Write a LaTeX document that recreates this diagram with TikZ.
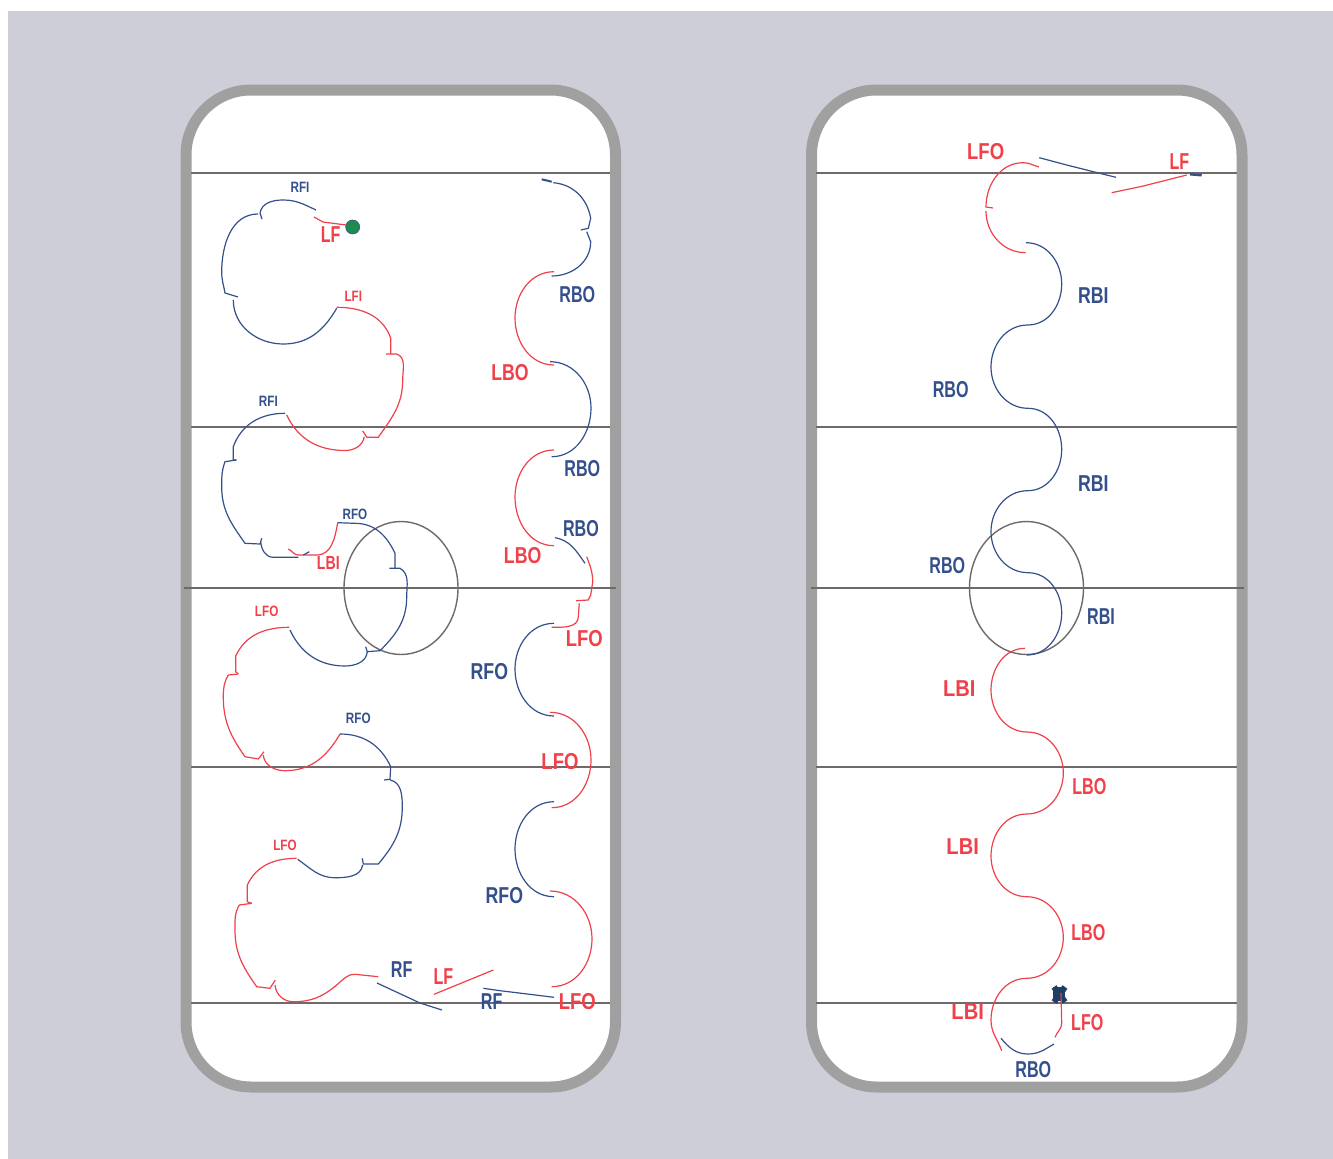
\documentclass[tikz,border=0pt]{standalone}
\usepackage{fontspec}
\setmainfont{Liberation Sans}
\usepackage{xcolor}
\definecolor{iceBg}{HTML}{CECED8}
\definecolor{rimC}{HTML}{A0A0A0}
\definecolor{markC}{HTML}{6E6A6A}
\definecolor{rightC}{HTML}{34508C}
\definecolor{leftC}{HTML}{F0404A}
\definecolor{puckC}{HTML}{1E8C50}
\definecolor{skaterC}{HTML}{1C3F63}
\tikzset{
  rink/.style={draw=rimC, line width=11pt, fill=white, rounded corners=65pt},
  rinkline/.style={draw=markC, line width=1.4pt},
  rightedge/.style={draw=rightC, line width=1.2pt},
  leftedge/.style={draw=leftC, line width=1.2pt},
  toR/.style={out=0, in=90},
  fromR/.style={out=-90, in=0},
  toL/.style={out=180, in=90},
  fromL/.style={out=-90, in=180},
  tagS/.style={font=\bfseries\fontsize{15}{15}\selectfont, transform shape, xscale=.78, inner sep=0pt},
  tagM/.style={font=\bfseries\fontsize{19}{19}\selectfont, transform shape, xscale=.78, inner sep=0pt},
  tagL/.style={font=\bfseries\fontsize{23}{23}\selectfont, transform shape, xscale=.7, inner sep=0pt},
  crop/.style 2 args={shift={(#1,#2)}, x=.33333pt, y=-.33333pt},
}
\begin{document}
\begin{tikzpicture}[x=1pt, y=-1pt]
  \useasboundingbox (0,0) rectangle (1333,1159);
  \fill[iceBg] (8,11) rectangle (1333,1159);
  % the two rinks
  \draw[rink] (186,90) rectangle (615.5,1087);
  \draw[rink] (811.5,90) rectangle (1242,1087);
  \foreach \y in {173,427,767,1003} {
    \draw[rinkline] (191,\y) -- (610,\y);
    \draw[rinkline] (816,\y) -- (1237,\y);
  }
  \draw[rinkline] (184,588) -- (616,588);
  \draw[rinkline] (811,588) -- (1244,588);
  \draw[rinkline] (401,588) ellipse (57 and 66.5);
  \draw[rinkline] (1026.5,588) ellipse (57 and 66.5);

  % left rink, the loops
  \draw[rightedge] (316,210) to[out=155,in=0] (283,200) to[out=180,in=80] (260,213) -- (262,219);
  \draw[rightedge] (258,214) to[toL] (221.7,272) to[out=-90,in=100] (225,293) -- (238,297);
  \draw[rightedge] (233.3,300) to[fromL] (283.3,344) to[out=0,in=240] (336.7,308.3);
  \draw[leftedge] (314,217) -- (323,222) -- (346,225);
  \draw[leftedge] (336.7,307.3) to[out=0,in=110] (390.7,338) -- (390.7,354);
  \draw[leftedge] (386,354) -- (396.7,354) to[out=-20,in=90] (402.7,380) to[out=-90,in=55] (378.3,437.3) -- (367,437.3) -- (362.7,431);
  \draw[leftedge] (364.3,436.7) to[out=-100,in=0] (345,450.5) to[out=180,in=-65] (286.7,415);
  \draw[rightedge] (285,413.3) to[out=180,in=70] (233.3,446.7) -- (233.3,460) -- (236.7,460);
  \draw[rightedge] (236,460) -- (225,461.7) to[out=-110,in=90] (221.7,486.7) to[out=-90,in=125] (245,543.3) -- (260,544) -- (261.7,538.3);
  \draw[rightedge] (260.7,541.7) to[out=-85,in=180] (273.3,557.3) -- (298.3,557.3);
  \draw[leftedge] (288.3,549) to[out=-25,in=180] (298.3,555) -- (316.7,555) to[out=0,in=-100] (337.7,522.7);
  \draw[rightedge] (303.3,555) -- (309.3,551.7);
  \draw[rightedge] (337.7,522.7) -- (355,523.3) to[out=0,in=115] (395,553.3) -- (395,568.3);
  \draw[rightedge] (389.3,568.3) -- (400,568.3) to[out=-30,in=90] (406.7,596.7) to[out=-90,in=45] (380,650.7) -- (366.7,651.7);
  \draw[rightedge] (365.7,646.7) -- (367.3,651.7) to[out=-95,in=0] (345,666) to[out=180,in=-65] (290,630);
  \draw[leftedge] (289.3,627.3) to[out=180,in=65] (235.7,656) -- (235.7,671.7) -- (238.3,674);
  \draw[leftedge] (238.3,674) -- (228.3,675) to[out=-120,in=90] (223.3,696.7) to[out=-90,in=125] (245,756.7) -- (258.3,759) -- (264,751.7);
  \draw[leftedge] (263.3,755) to[out=-85,in=180] (285,770.7) to[out=0,in=-120] (340,734);
  \draw[rightedge] (340,734) to[out=0,in=115] (390.7,766.7) -- (390,779.3) -- (384,780);
  \draw[rightedge] (390,780) to[out=-10,in=90] (402.3,806.7) to[out=-90,in=50] (378.3,864) -- (363.3,864) -- (362.3,858.3);
  \draw[rightedge] (362.7,865) to[out=-100,in=0] (335,877.7) to[out=180,in=-35] (297.7,859.3);
  \draw[leftedge] (296.7,858.3) to[out=180,in=65] (247.3,885) -- (247.3,901.7) -- (251.7,903.3);
  \draw[leftedge] (251.7,903.3) -- (239.3,905) to[out=-120,in=90] (235,930) to[out=-90,in=125] (256.7,986.7) -- (270,988.3) -- (275.3,980);
  \draw[leftedge] (275,985) to[out=-85,in=180] (293.3,1001.7) to[out=0,in=-140] (336.7,985) to[out=40,in=180] (355,974.3) -- (378.3,976.7);
  \draw[rightedge] (377,983) -- (420,1003) -- (442,1010);
  \draw[leftedge] (434,994.3) -- (493.3,970);
  \draw[rightedge] (554,997.3) -- (516.7,992.7) -- (500,990.7) -- (483.3,988.3);

  % left rink, the waves
  \draw[rightedge, line width=2pt] (541.7,179.3) -- (551.7,181.7);
  \draw[rightedge] (553.3,182.7) to[out=-5,in=100] (590.7,218.3) -- (588.3,228.3) -- (580.7,230);
  \draw[rightedge] (586.7,231.7) -- (590.7,241.7) to[fromR] (551.7,276);
  \draw[leftedge] (554,271.7) to[toL] (515,318) to[fromL] (554,365);
  \draw[rightedge] (550,361.7) to[toR] (591,408) to[fromR] (551.7,456.7);
  \draw[leftedge] (554,450) to[toL] (515,497) to[fromL] (554,545.7);
  \draw[rightedge] (555,537.7) to[out=-10,in=125] (585,563.3);
  \draw[leftedge] (586.7,556.7) to[out=-70,in=90] (592.7,582) -- (590.7,595) -- (588.3,600) -- (576,600.7);
  \draw[leftedge] (579.3,603.3) -- (578.3,616.7) to[fromR] (551.7,627.3);
  \draw[rightedge] (554,623.3) to[toL] (515,669) to[fromL] (554,716);
  \draw[leftedge] (550,712.3) to[toR] (591,760) to[fromR] (551.7,807.7);
  \draw[rightedge] (554,801.7) to[toL] (515,849) to[fromL] (554,896.7);
  \draw[leftedge] (550,891) to[toR] (592,939) to[fromR] (551.7,986.7);

  % right rink
  \draw[leftedge] (1039,167) to[out=165,in=0] (1023,162.7) to[toL] (986,207) -- (993,208);
  \draw[leftedge] (986,211) to[fromL] (1025.6,252.7);
  \draw[rightedge] (1039.3,157.7) -- (1066.7,165) -- (1093.3,171.7) -- (1116,177.3);
  \draw[leftedge] (1111.7,192.7) -- (1143.3,186) -- (1186.7,175);
  \draw[rightedge, line width=2.4pt] (1190,174.3) -- (1201.7,175.3);
  \draw[rightedge] (1026,242.7) to[toR] (1061.7,284) to[fromR] (1027.7,325) to[toL] (991,367) to[fromL] (1028,408.3)
    to[toR] (1061.7,449.5) to[fromR] (1027.7,490.7) to[toL] (991,531.5) to[fromL] (1028,572.7) to[toR] (1061.7,613) to[fromR] (1026.7,655);
  \draw[leftedge] (1025,648.3) to[toL] (991,690) to[fromL] (1027,732) to[toR] (1063.3,773) to[fromR] (1026.7,814)
    to[toL] (991,856) to[fromL] (1026.7,896.7) to[toR] (1063.3,937.5) to[fromR] (1026.7,978.3) to[toL] (991,1020) to[out=-90,in=110] (1001.7,1050.7);
  \draw[skaterC, line width=6pt] (1054,987) -- (1065,1002) (1065,987) -- (1054,1002);
  \node[fill=skaterC, minimum width=12pt, minimum height=14pt, inner sep=0pt] (skater) at (1059.3,994.3) {};
  \draw[leftedge] (1061,993) -- (1061.7,1023) to[out=-90,in=70] (1055,1037.3);
  \draw[rightedge] (1001,1038.3) to[out=-50,in=180] (1028,1054) to[out=0,in=-150] (1054,1044);
  \node[circle, fill=puckC, draw=rightC, line width=.6pt, minimum size=14pt, inner sep=0pt] (puck) at (352.7,227) {};

  % left rink, upper half labels
  \begin{scope}[crop={170}{80}]
    \node[tagS, text=rightC] (rfiA) at (390,322) {RFI};
    \node[tagL, text=leftC] (lfA) at (482,465) {LF};
    \node[tagS, text=leftC] (lfiA) at (550,648) {LFI};
    \node[tagS, text=rightC] (rfiB) at (295,965) {RFI};
    \node[tagS, text=rightC] (rfoA) at (555,1303) {RFO};
    \node[tagM, text=leftC, xscale=.95] (lbiA) at (475,1448) {LBI};
    \node[tagL, text=rightC] (rboA) at (1222,643) {RBO};
    \node[tagL, text=leftC, xscale=1.1] (lboA) at (1020,878) {LBO};
    \node[tagL, text=rightC] (rboB) at (1237,1165) {RBO};
    \node[tagL, text=rightC] (rboC) at (1233,1345) {RBO};
    \node[tagL, text=leftC, xscale=1.1] (lboB) at (1058,1428) {LBO};
  \end{scope}

  % left rink, lower half labels
  \begin{scope}[crop={170}{580}]
    \node[tagS, text=leftC] (lfoA) at (290,95) {LFO};
    \node[tagS, text=rightC] (rfoB) at (565,415) {RFO};
    \node[tagS, text=leftC] (lfoB) at (345,795) {LFO};
    \node[tagL, text=leftC, xscale=1.15] (lfoC) at (1243,175) {LFO};
    \node[tagL, text=rightC, xscale=1.1] (rfoC) at (958,275) {RFO};
    \node[tagL, text=leftC, xscale=1.15] (lfoD) at (1170,545) {LFO};
    \node[tagL, text=rightC, xscale=1.1] (rfoD) at (1003,948) {RFO};
    \node[tagL, text=rightC] (rfA) at (695,1170) {RF};
    \node[tagL, text=leftC] (lfB) at (820,1190) {LF};
    \node[tagL, text=rightC] (rfB) at (965,1265) {RF};
    \node[tagL, text=leftC, xscale=1.15] (lfoE) at (1222,1265) {LFO};
  \end{scope}

  % right rink, labels
  \begin{scope}[crop={800}{80}]
    \node[tagL, text=leftC, xscale=1.15] (lfoF) at (557,215) {LFO};
    \node[tagL, text=leftC] (lfC) at (1138,245) {LF};
    \node[tagL, text=rightC, xscale=1.1] (rbiA) at (880,647) {RBI};
    \node[tagL, text=rightC] (rboD) at (452,928) {RBO};
    \node[tagL, text=rightC, xscale=1.1] (rbiB) at (880,1212) {RBI};
    \node[tagL, text=rightC] (rboE) at (442,1458) {RBO};
  \end{scope}
  \begin{scope}[crop={800}{580}]
    \node[tagL, text=rightC] (rbiC) at (903,110) {RBI};
    \node[tagL, text=leftC, xscale=1.25] (lbiB) at (478,327) {LBI};
    \node[tagL, text=leftC] (lboC) at (868,620) {LBO};
    \node[tagL, text=leftC, xscale=1.25] (lbiC) at (488,800) {LBI};
    \node[tagL, text=leftC] (lboD) at (865,1057) {LBO};
    \node[tagL, text=leftC, xscale=1.25] (lbiD) at (503,1295) {LBI};
    \node[tagL, text=leftC] (lfoG) at (862,1328) {LFO};
    \node[tagL, text=rightC] (rboF) at (700,1470) {RBO};
  \end{scope}
\end{tikzpicture}
\end{document}
